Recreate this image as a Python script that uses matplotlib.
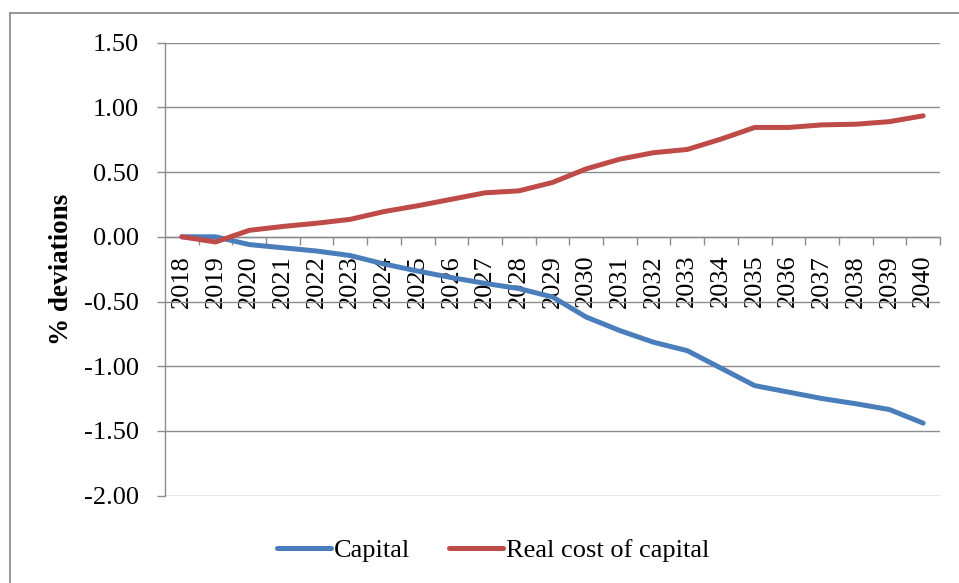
import numpy as np
import matplotlib
matplotlib.use("Agg")
from matplotlib import pyplot as plt
from matplotlib.patches import Rectangle
from matplotlib.ticker import FixedLocator, FormatStrFormatter

plt.rcParams['font.family'] = ['Liberation Serif', 'DejaVu Serif']
plt.rcParams['axes.unicode_minus'] = False

# values (% deviations)
years = [str(y) for y in range(2018, 2041)]
capital = [0.00, 0.00, -0.06, -0.085, -0.11, -0.145, -0.21, -0.265, -0.315, -0.36, -0.40, -0.465,
           -0.62, -0.725, -0.815, -0.88, -1.015, -1.15, -1.20, -1.25, -1.29, -1.335, -1.44]
real_cost = [0.00, -0.04, 0.05, 0.08, 0.105, 0.135, 0.195, 0.24, 0.29, 0.34, 0.355, 0.42,
             0.525, 0.60, 0.65, 0.675, 0.755, 0.845, 0.845, 0.865, 0.87, 0.89, 0.935]
yticks = [-2.0, -1.5, -1.0, -0.5, 0.0, 0.5, 1.0, 1.5]

BLUE = '#4A7EBB'
RED = '#BE4B48'
GREY = '#8C8C8C'

fig = plt.figure(figsize=(9.59, 5.83), dpi=100)
ax = fig.add_axes([165/959, 1 - 495.6/583, (940 - 165)/959, (495.6 - 42.7)/583])

# outer chart frame (runs off the right / bottom edge in the original)
fig.patches.append(Rectangle((9.5/959, -0.05), 1.1, 1 - 13/583 + 0.05, transform=fig.transFigure,
                             fill=False, edgecolor=GREY, linewidth=1.3))

x = np.arange(len(years))
ax.plot(x, capital, color=BLUE, lw=3.6, solid_capstyle='round', label='Capital', zorder=3)
ax.plot(x, real_cost, color=RED, lw=3.6, solid_capstyle='round', label='Real cost of capital', zorder=3)

ax.set_xlim(-0.5, len(years) - 0.5)
ax.set_ylim(-2.0, 1.5)

# y axis
ax.set_yticks(yticks)
ax.yaxis.set_major_formatter(FormatStrFormatter('%.2f'))
ax.tick_params(axis='y', direction='out', length=5.8, width=1.0, color=GREY, pad=13, labelsize=19)
ax.grid(axis='y', color=GREY, lw=1.0)
ax.set_axisbelow(True)
ax.set_ylabel('% deviations', fontsize=19.5, fontweight='bold', labelpad=7)

# category axis crossing at zero
ax.spines['bottom'].set_position(('data', 0))
for s in ['top', 'right']:
    ax.spines[s].set_visible(False)
for s in ['left', 'bottom']:
    ax.spines[s].set_color(GREY)
    ax.spines[s].set_linewidth(1.0)
ax.set_xticks(x)
ax.set_xticklabels(years, rotation=90)
ax.xaxis.set_minor_locator(FixedLocator(np.arange(0.5, len(years), 1.0)))
ax.tick_params(axis='x', which='major', length=0, pad=13, labelsize=19)
ax.tick_params(axis='x', which='minor', direction='out', length=5.8, width=1.0, color=GREY)

fig.legend(loc='center', bbox_to_anchor=(493/959, 1 - 550/583), ncol=2, frameon=False,
           fontsize=19, handlelength=2.05, handletextpad=0.1, columnspacing=1.5)

fig.savefig('out.png', dpi=100)
